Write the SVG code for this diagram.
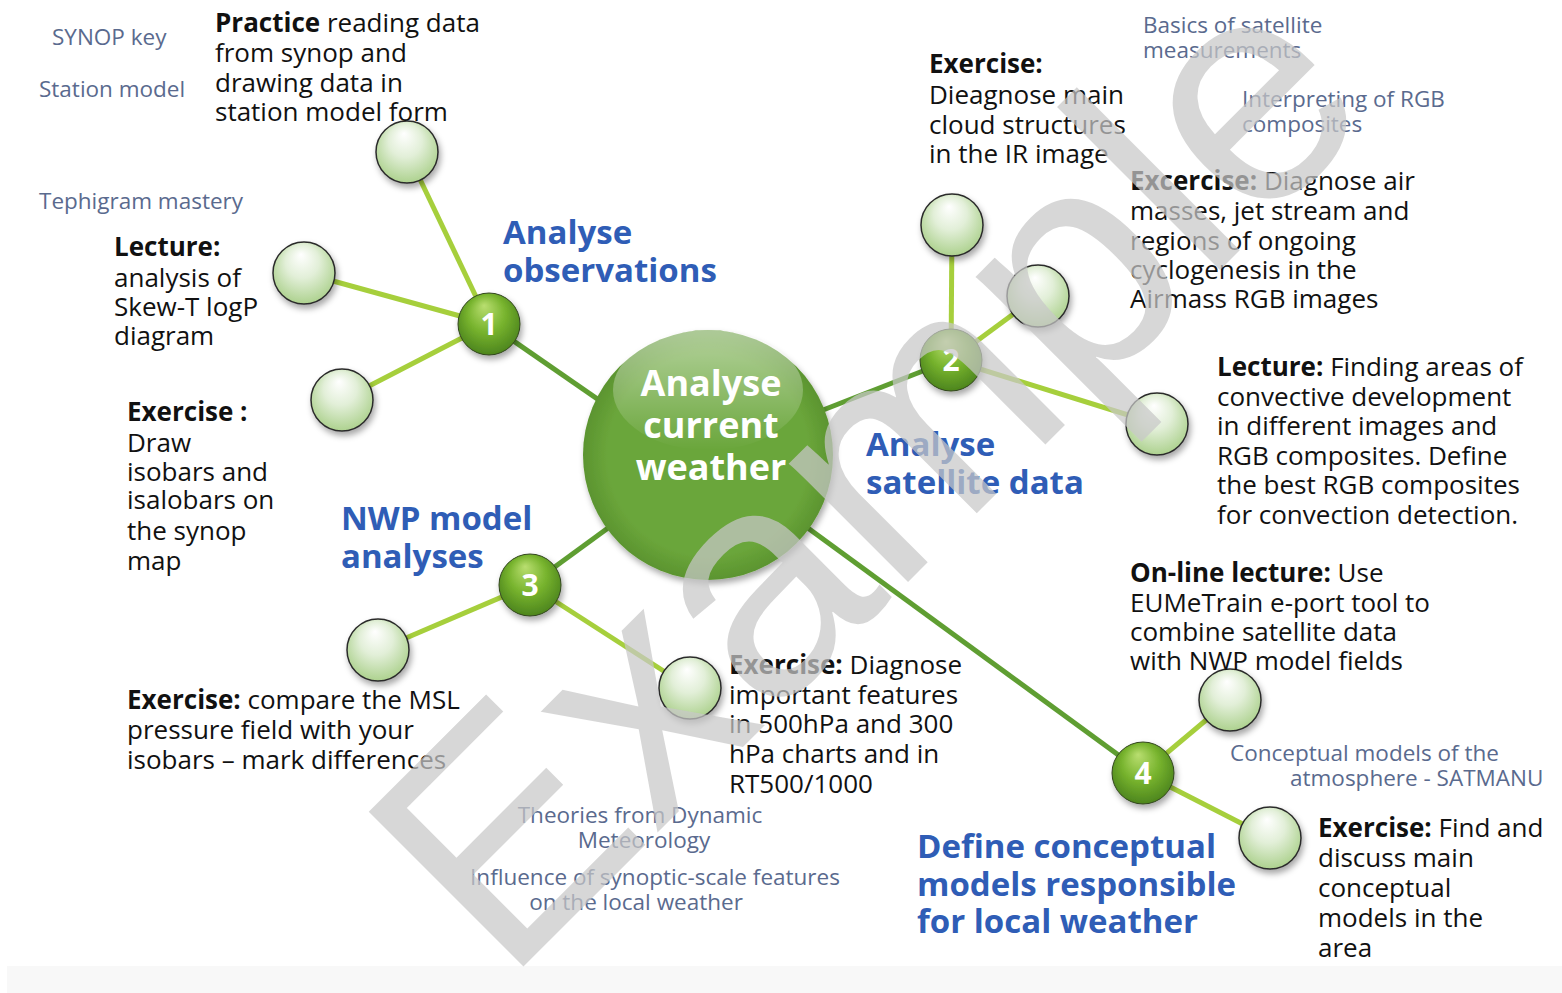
<svg xmlns="http://www.w3.org/2000/svg" width="1562" height="993" viewBox="0 0 1562 993">
<style>
text{font-family:"Open Sans","Noto Sans","Liberation Sans",sans-serif}
.body{font-size:26px;fill:#111}
.b{font-weight:bold}
.sub{font-size:22.5px;fill:#5a6a8e}
.head{font-size:33px;font-weight:bold;fill:#2f5db6}
.num{font-size:30px;font-weight:bold;fill:#fff;text-anchor:middle}
.trunk{stroke:#5f9e32;stroke-width:5;fill:none}
.branch{stroke:#a6cf3c;stroke-width:5;fill:none}
.ball{fill:url(#gBall);stroke:#2b2b2b;stroke-width:1.5;filter:url(#shadow)}
.nball{fill:url(#gNum);stroke:#33461f;stroke-width:1;filter:url(#shadow)}
</style>
<defs>
<radialGradient id="gBall" cx="0.5" cy="0.45" r="0.6" fx="0.45" fy="0.2">
<stop offset="0" stop-color="#ffffff"/>
<stop offset="0.45" stop-color="#e2efd8"/>
<stop offset="1" stop-color="#a7ce86"/>
</radialGradient>
<radialGradient id="gNum" cx="0.5" cy="0.45" r="0.6" fx="0.42" fy="0.2">
<stop offset="0" stop-color="#b9de70"/>
<stop offset="0.5" stop-color="#78b42e"/>
<stop offset="1" stop-color="#477f1b"/>
</radialGradient>
<radialGradient id="gMain" cx="0.5" cy="0.5" r="0.5">
<stop offset="0.8" stop-color="#6ba63b"/>
<stop offset="1" stop-color="#5b942f"/>
</radialGradient>
<linearGradient id="gGloss" x1="0" y1="0" x2="0" y2="1">
<stop offset="0" stop-color="#ffffff" stop-opacity="0.5"/>
<stop offset="1" stop-color="#ffffff" stop-opacity="0"/>
</linearGradient>
<filter id="shadow" x="-30%" y="-30%" width="160%" height="170%">
<feDropShadow dx="2" dy="4" stdDeviation="3" flood-color="#000" flood-opacity="0.35"/>
</filter>
</defs>
<rect width="1562" height="993" fill="#ffffff"/>
<rect x="7" y="966" width="1555" height="27" fill="#f8f8f8"/>

<g id="connectors">
<line class="trunk" x1="489" y1="324" x2="700" y2="470"/>
<line class="trunk" x1="951" y1="360" x2="708" y2="455"/>
<line class="trunk" x1="530" y1="585" x2="708" y2="455"/>
<line class="trunk" x1="1143" y1="773" x2="708" y2="455"/>
<line class="branch" x1="489" y1="324" x2="407" y2="152"/>
<line class="branch" x1="489" y1="324" x2="304" y2="273"/>
<line class="branch" x1="489" y1="324" x2="342" y2="400"/>
<line class="branch" x1="951" y1="360" x2="952" y2="225"/>
<line class="branch" x1="951" y1="360" x2="1038" y2="296"/>
<line class="branch" x1="951" y1="360" x2="1157" y2="424"/>
<line class="branch" x1="530" y1="585" x2="378" y2="650"/>
<line class="branch" x1="530" y1="585" x2="690" y2="688"/>
<line class="branch" x1="1143" y1="773" x2="1230" y2="700"/>
<line class="branch" x1="1143" y1="773" x2="1270" y2="838"/>
</g>

<g id="center">
<circle cx="708" cy="455" r="125" fill="url(#gMain)" filter="url(#shadow)"/>
<ellipse cx="708" cy="390" rx="95" ry="60" fill="url(#gGloss)"/>
<g font-size="36" font-weight="bold" fill="#ffffff" text-anchor="middle">
<text x="711" y="396">Analyse</text>
<text x="711" y="438">current</text>
<text x="711" y="480">weather</text>
</g>
</g>

<g id="node1">
<circle class="nball" cx="489" cy="324" r="31"/>
<text class="num" x="489" y="335">1</text>
<text class="head" x="503" y="244">Analyse</text>
<text class="head" x="503" y="282">observations</text>
</g>
<g id="node2">
<circle class="nball" cx="951" cy="360" r="31"/>
<text class="num" x="951" y="371">2</text>
<text class="head" x="866" y="456">Analyse</text>
<text class="head" x="866" y="494">satellite data</text>
</g>
<g id="node3">
<circle class="nball" cx="530" cy="585" r="31"/>
<text class="num" x="530" y="596">3</text>
<text class="head" x="341" y="530">NWP model</text>
<text class="head" x="341" y="568">analyses</text>
</g>
<g id="node4">
<circle class="nball" cx="1143" cy="773" r="31"/>
<text class="num" x="1143" y="784">4</text>
<text class="head" x="917" y="858">Define conceptual</text>
<text class="head" x="917" y="896">models responsible</text>
<text class="head" x="917" y="933">for local weather</text>
</g>

<g id="obs-practice">
<circle class="ball" cx="407" cy="152" r="31"/>
<text class="body"><tspan x="215" y="32"><tspan class="b">Practice</tspan> reading data</tspan><tspan x="215" y="62">from synop and</tspan><tspan x="215" y="92">drawing data in</tspan><tspan x="215" y="121">station model form</tspan></text>
</g>
<g id="obs-lecture">
<circle class="ball" cx="304" cy="273" r="31"/>
<text class="body"><tspan class="b" x="114" y="256">Lecture:</tspan><tspan x="114" y="287">analysis of</tspan><tspan x="114" y="316">Skew-T logP</tspan><tspan x="114" y="345">diagram</tspan></text>
</g>
<g id="obs-exercise">
<circle class="ball" cx="342" cy="400" r="31"/>
<text class="body"><tspan class="b" x="127" y="421">Exercise :</tspan><tspan x="127" y="452">Draw</tspan><tspan x="127" y="481">isobars and</tspan><tspan x="127" y="509">isalobars on</tspan><tspan x="127" y="540">the synop</tspan><tspan x="127" y="570">map</tspan></text>
</g>
<g id="obs-topics">
<text class="sub" x="52" y="45">SYNOP key</text>
<text class="sub" x="39" y="97">Station model</text>
<text class="sub" x="39" y="209">Tephigram mastery</text>
</g>

<g id="sat-ir">
<circle class="ball" cx="952" cy="225" r="31"/>
<text class="body"><tspan class="b" x="929" y="73">Exercise:</tspan><tspan x="929" y="104">Dieagnose main</tspan><tspan x="929" y="134">cloud structures</tspan><tspan x="929" y="163">in the IR image</tspan></text>
</g>
<g id="sat-airmass">
<circle class="ball" cx="1038" cy="296" r="31"/>
<text class="body"><tspan x="1130" y="190"><tspan class="b">Excercise:</tspan> Diagnose air</tspan><tspan x="1130" y="220">masses, jet stream and</tspan><tspan x="1130" y="250">regions of ongoing</tspan><tspan x="1130" y="279">cyclogenesis in the</tspan><tspan x="1130" y="308">Airmass RGB images</tspan></text>
</g>
<g id="sat-convection">
<circle class="ball" cx="1157" cy="424" r="31"/>
<text class="body"><tspan x="1217" y="376"><tspan class="b">Lecture:</tspan> Finding areas of</tspan><tspan x="1217" y="406">convective development</tspan><tspan x="1217" y="435">in different images and</tspan><tspan x="1217" y="465">RGB composites. Define</tspan><tspan x="1217" y="494">the best RGB composites</tspan><tspan x="1217" y="524">for convection detection.</tspan></text>
</g>
<g id="sat-topics">
<text class="sub"><tspan x="1143" y="33">Basics of satellite</tspan><tspan x="1143" y="58">measurements</tspan></text>
<text class="sub"><tspan x="1242" y="107">Interpreting of RGB</tspan><tspan x="1242" y="132">composites</tspan></text>
</g>

<g id="nwp-msl">
<circle class="ball" cx="378" cy="650" r="31"/>
<text class="body"><tspan x="127" y="709"><tspan class="b">Exercise:</tspan> compare the MSL</tspan><tspan x="127" y="739">pressure field with your</tspan><tspan x="127" y="769">isobars – mark differences</tspan></text>
</g>
<g id="nwp-upper">
<circle class="ball" cx="690" cy="688" r="31"/>
<text class="body"><tspan x="729" y="674"><tspan class="b">Exercise:</tspan> Diagnose</tspan><tspan x="729" y="704">important features</tspan><tspan x="729" y="733">in 500hPa and 300</tspan><tspan x="729" y="763">hPa charts and in</tspan><tspan x="729" y="793">RT500/1000</tspan></text>
</g>
<g id="nwp-topics">
<text class="sub" text-anchor="middle"><tspan x="640" y="823">Theories from Dynamic</tspan><tspan x="644" y="848">Meteorology</tspan></text>
<text class="sub" text-anchor="middle"><tspan x="655" y="885">Influence of synoptic-scale features</tspan><tspan x="636" y="910">on the local weather</tspan></text>
</g>

<g id="cm-eport">
<circle class="ball" cx="1230" cy="700" r="31"/>
<text class="body"><tspan x="1130" y="582"><tspan class="b">On-line lecture:</tspan> Use</tspan><tspan x="1130" y="612">EUMeTrain e-port tool to</tspan><tspan x="1130" y="641">combine satellite data</tspan><tspan x="1130" y="670">with NWP model fields</tspan></text>
</g>
<g id="cm-find">
<circle class="ball" cx="1270" cy="838" r="31"/>
<text class="body"><tspan x="1318" y="837"><tspan class="b">Exercise:</tspan> Find and</tspan><tspan x="1318" y="867">discuss main</tspan><tspan x="1318" y="897">conceptual</tspan><tspan x="1318" y="927">models in the</tspan><tspan x="1318" y="957">area</tspan></text>
</g>
<g id="cm-topics">
<text class="sub"><tspan x="1230" y="761">Conceptual models of the</tspan><tspan x="1290" y="786">atmosphere - SATMANU</tspan></text>
</g>

<text id="watermark" x="0" y="0" transform="translate(505 985) rotate(-45)" style="font-family:'Liberation Sans',Arial,sans-serif" font-size="318" fill="#c8c8c8" fill-opacity="0.72">Example</text>
</svg>
